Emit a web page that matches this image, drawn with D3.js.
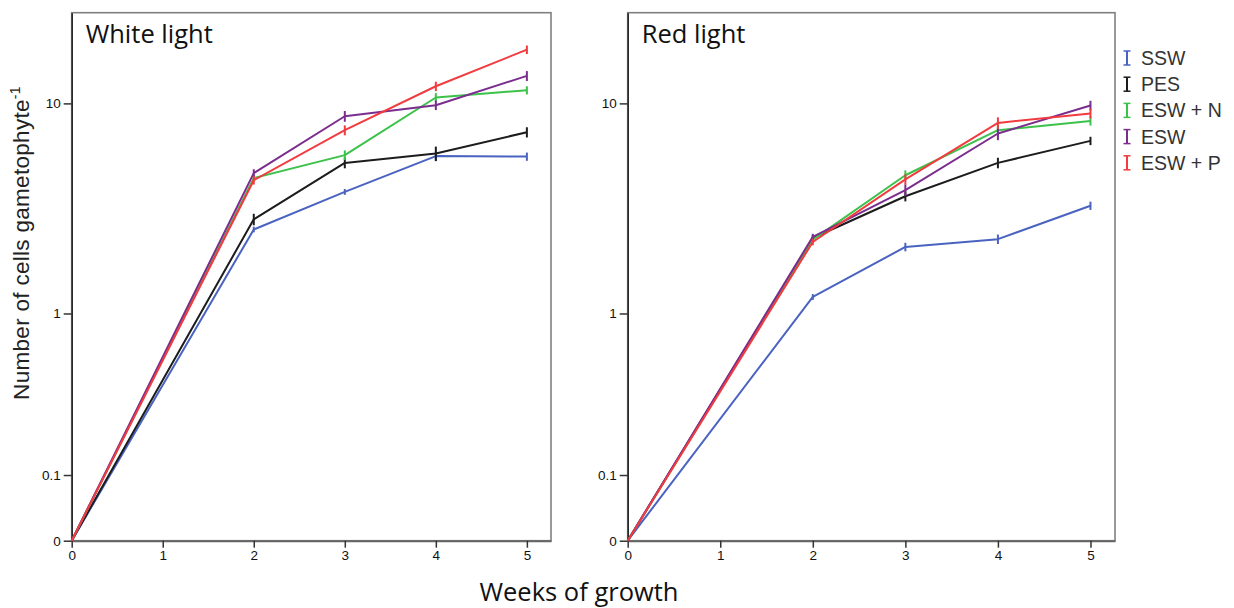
<!DOCTYPE html>
<html><head><meta charset="utf-8">
<script src="https://cdn.jsdelivr.net/npm/d3@7"></script>
<style>body{margin:0;background:#fff}svg{display:block}</style>
</head><body>
<svg id="c" width="1234" height="608"></svg>
<script>
const weeks = [0, 2, 3, 4, 5];
const seriesNames = ["SSW", "PES", "ESW + N", "ESW", "ESW + P"];
const seriesColors = ["#4a63c0", "#1c1c1c", "#3cc24a", "#7b2d8e", "#f23b3f"];
const xTicks = [0, 1, 2, 3, 4, 5];
const yTicks = [0, 0.1, 1, 10];
const panelTitles = ["White light", "Red light"];

// White light
const whiteSSW   = [0, 2.57, 3.87, 5.69, 5.66];
const whitePES   = [0, 2.87, 5.29, 5.85, 7.35];
const whiteESWN  = [0, 4.49, 5.75, 10.65, 11.5];
const whiteESW   = [0, 4.74, 8.72, 9.81, 13.4];
const whiteESWP  = [0, 4.39, 7.51, 12.0, 17.7];
const whiteErrSSW  = [0, 0.08, 0.12, 0.30, 0.25];
const whiteErrPES  = [0, 0.18, 0.30, 0.45, 0.40];
const whiteErrESWN = [0, 0.15, 0.30, 0.50, 0.50];
const whiteErrESW  = [0, 0.20, 0.50, 0.50, 0.70];
const whiteErrESWP = [0, 0.20, 0.40, 0.60, 0.80];

// Red light
const redSSW   = [0, 1.21, 2.12, 2.31, 3.33];
const redPES   = [0, 2.34, 3.69, 5.29, 6.70];
const redESWN  = [0, 2.30, 4.63, 7.51, 8.29];
const redESW   = [0, 2.37, 3.94, 7.25, 9.78];
const redESWP  = [0, 2.24, 4.43, 8.12, 8.98];
const redErrSSW  = [0, 0.04, 0.10, 0.12, 0.15];
const redErrPES  = [0, 0.08, 0.20, 0.30, 0.30];
const redErrESWN = [0, 0.08, 0.25, 0.40, 0.40];
const redErrESW  = [0, 0.08, 0.25, 0.50, 0.50];
const redErrESWP = [0, 0.08, 0.25, 0.50, 0.45];

const panels = [
  {title: panelTitles[0], values: [whiteSSW, whitePES, whiteESWN, whiteESW, whiteESWP],
   errs: [whiteErrSSW, whiteErrPES, whiteErrESWN, whiteErrESW, whiteErrESWP],
   x0: 71.7, x1: 551},
  {title: panelTitles[1], values: [redSSW, redPES, redESWN, redESW, redESWP],
   errs: [redErrSSW, redErrPES, redErrESWN, redErrESW, redErrESWP],
   x0: 627.7, x1: 1115}
];

const svg = d3.select("#c");
const yTop = 12.7, yBot = 540.7;
const y = d3.scaleSymlog().constant(0.1).domain([0, 26.2]).range([yBot, yTop]);

panels.forEach(p => {
  const x = d3.scaleLinear().domain([0, 5.265]).range([p.x0, p.x1]);
  const g = svg.append("g");
  g.append("rect").attr("x", p.x0).attr("y", yTop).attr("width", p.x1 - p.x0).attr("height", yBot - yTop)
    .attr("fill", "none").attr("stroke", "#808080").attr("stroke-width", 1.6);
  const ya = g.append("g").attr("transform", `translate(${p.x0},0)`)
    .call(d3.axisLeft(y).tickValues(yTicks).tickFormat(d => String(d)).tickSize(8).tickSizeOuter(0).tickPadding(3));
  ya.attr("font-size", 13);
  ya.select(".domain").attr("stroke", "#222").attr("stroke-width", 1.5);
  ya.selectAll(".tick line").attr("stroke", "#333").attr("stroke-width", 1.5);
  ya.selectAll("text").attr("font-family", "Liberation Sans, Arial, sans-serif").attr("font-size", 13.5).attr("fill", "#111");
  const xa = g.append("g").attr("transform", `translate(0,${yBot})`)
    .call(d3.axisBottom(x).tickValues(xTicks).tickFormat(d3.format("d")).tickSize(7).tickSizeOuter(0).tickPadding(3));
  xa.select(".domain").attr("stroke", "#666").attr("stroke-width", 2);
  xa.selectAll(".tick line").attr("stroke", "#333").attr("stroke-width", 1.5);
  xa.selectAll("text").attr("font-family", "Liberation Sans, Arial, sans-serif").attr("font-size", 13.5).attr("fill", "#111");
  g.append("text").attr("x", p.x0 + 14).attr("y", 43).text(p.title)
    .attr("font-family", "Open Sans, sans-serif").attr("font-size", 25.5).attr("fill", "#111");
  const line = d3.line().x((d, i) => x(weeks[i])).y(d => y(d));
  p.values.forEach((vals, si) => {
    const col = seriesColors[si];
    g.append("path").attr("d", line(vals)).attr("fill", "none")
      .attr("stroke", col).attr("stroke-width", 2).attr("stroke-linejoin", "round");
    vals.forEach((v, i) => {
      if (weeks[i] === 0) return;
      const e = p.errs[si][i];
      const cx = x(weeks[i]);
      g.append("line").attr("x1", cx).attr("x2", cx).attr("y1", y(v - e)).attr("y2", y(v + e))
        .attr("stroke", col).attr("stroke-width", 2);
    });
  });
});

svg.append("text").attr("transform", "translate(29,243) rotate(-90)")
  .attr("text-anchor", "middle").attr("font-family", "Liberation Sans, Arial, sans-serif")
  .attr("font-size", 22.5).attr("letter-spacing", 0.3).attr("fill", "#222")
  .call(t => {
    t.append("tspan").text("Number of cells gametophyte");
    t.append("tspan").text("-1").attr("font-size", 14).attr("dy", -9);
  });

svg.append("text").attr("x", 579).attr("y", 601).attr("text-anchor", "middle")
  .attr("font-family", "Open Sans, sans-serif").attr("font-size", 25.5).attr("fill", "#111")
  .text("Weeks of growth");

const lg = svg.append("g");
seriesNames.forEach((n, i) => {
  const cy = 58 + i * 26.2;
  const cx = 1127;
  const c = seriesColors[i];
  lg.append("line").attr("x1", cx).attr("x2", cx).attr("y1", cy - 7).attr("y2", cy + 7).attr("stroke", c).attr("stroke-width", 2);
  lg.append("line").attr("x1", cx - 3.5).attr("x2", cx + 3.5).attr("y1", cy - 7).attr("y2", cy - 7).attr("stroke", c).attr("stroke-width", 1.5);
  lg.append("line").attr("x1", cx - 3.5).attr("x2", cx + 3.5).attr("y1", cy + 7).attr("y2", cy + 7).attr("stroke", c).attr("stroke-width", 1.5);
  lg.append("text").attr("x", 1141).attr("y", cy + 7).text(n)
    .attr("font-family", "Liberation Sans, Arial, sans-serif").attr("font-size", 19.5).attr("fill", "#333");
});
</script>
</body></html>
